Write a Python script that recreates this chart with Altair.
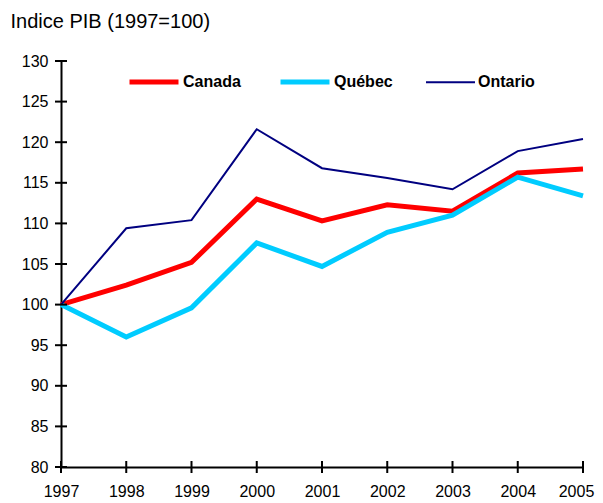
import altair as alt
import pandas as pd

years = [1997, 1998, 1999, 2000, 2001, 2002, 2003, 2004, 2005]
canada = [100.0, 102.4, 105.2, 113.0, 110.3, 112.3, 111.5, 116.2, 116.7]
quebec = [100.0, 96.0, 99.6, 107.6, 104.7, 108.9, 111.0, 115.7, 113.4]
ontario = [100.0, 109.4, 110.4, 121.6, 116.8, 115.6, 114.2, 118.9, 120.4]
series_names = ["Canada", "Québec", "Ontario"]
series_colors = ["#FF0000", "#00CCFF", "#000080"]
series_widths = [5, 5, 2]
y_ticks = [80, 85, 90, 95, 100, 105, 110, 115, 120, 125, 130]
title_text = "Indice PIB (1997=100)"

rows = []
for name, vals in zip(series_names, [canada, quebec, ontario]):
    for yr, v in zip(years, vals):
        rows.append({"year": yr, "value": v, "series": name})
df = pd.DataFrame(rows)

font = "Liberation Sans"
W, H = 522, 406

xscale = alt.Scale(domain=[years[0], years[-1]], nice=False, zero=False)
yscale = alt.Scale(domain=[y_ticks[0], y_ticks[-1]], nice=False, zero=False)

lines = alt.Chart(df).mark_line(strokeJoin="miter").encode(
    x=alt.X("year:Q", scale=xscale,
            axis=alt.Axis(values=years, format="d", title=None, ticks=False,
                          labelPadding=16, labelFontSize=16, labelFlush=False,
                          labelOffset={"condition": {"test": f"datum.value == {years[-1]}",
                                                     "value": -7}, "value": 0})),
    y=alt.Y("value:Q", scale=yscale,
            axis=alt.Axis(values=y_ticks, ticks=False, labelPadding=13,
                          labelFontSize=16, title=title_text,
                          titleAngle=0, titleAlign="left", titleBaseline="middle",
                          titleX=-51, titleY=-39.5, titleFontSize=20,
                          titleFontWeight="normal")),
    color=alt.Color("series:N", sort=series_names,
                    scale=alt.Scale(domain=series_names, range=series_colors),
                    legend=alt.Legend(title=None)),
    strokeWidth=alt.StrokeWidth("series:N", sort=series_names,
                                scale=alt.Scale(type="ordinal", domain=series_names,
                                                range=series_widths),
                                legend=alt.Legend(title=None)),
)

ydf = pd.DataFrame({"tick": y_ticks})
yticks = alt.Chart(ydf).mark_rule(strokeWidth=2, color="black").encode(
    y=alt.Y("tick:Q", scale=yscale),
    x=alt.value(-6),
    x2=alt.value(6),
)
xdf = pd.DataFrame({"yr": years})
xticks = alt.Chart(xdf).mark_rule(strokeWidth=2, color="black").encode(
    x=alt.X("yr:Q", scale=xscale),
    y=alt.value(H - 6),
    y2=alt.value(H + 6),
)

chart = alt.layer(lines, yticks, xticks).properties(
    width=W, height=H,
    autosize=alt.AutoSizeParams(type="none"),
    padding={"left": 53, "top": 53, "right": 12, "bottom": 34},
).configure_view(stroke=None).configure_axis(
    grid=False, domainColor="black", domainWidth=2,
    labelFont=font, labelColor="black", titleFont=font, titleColor="black",
).configure_legend(
    orient="none", legendX=66, legendY=-6, direction="horizontal",
    symbolType="stroke", symbolSize=2400, labelFont=font, labelFontSize=16,
    labelFontWeight="bold", labelColor="black", labelOffset=2, columnPadding=29,
)

chart.save("out.html", embed_options={"renderer": "svg", "actions": False})
